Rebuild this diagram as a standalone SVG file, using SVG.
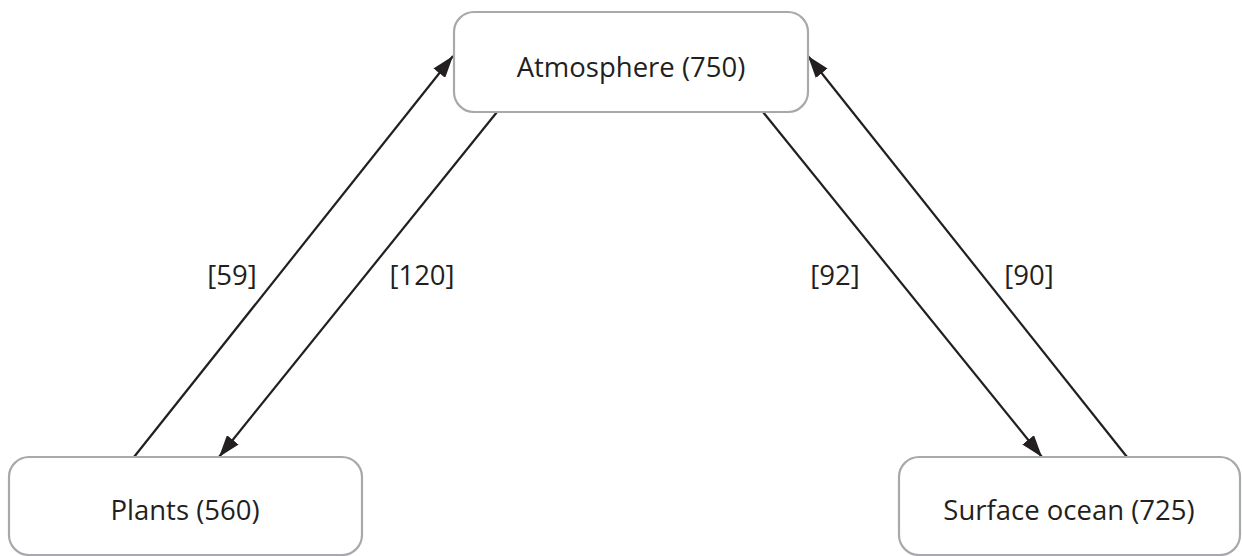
<svg xmlns="http://www.w3.org/2000/svg" width="1242" height="556" viewBox="0 0 1242 556">
<style>
.box{fill:#fff;stroke:#a7a9ac;stroke-width:2.2}
.lbl{font-family:"Open Sans","Noto Sans",sans-serif;font-size:27.5px;fill:#231f20;text-anchor:middle}
.edge{stroke:#231f20;stroke-width:2.2;fill:none;marker-end:url(#ah)}
</style>
<defs>
<marker id="ah" viewBox="0 0 22 15" refX="22" refY="7.5" markerWidth="22" markerHeight="15" markerUnits="userSpaceOnUse" orient="auto">
<path d="M0,0 L22,7.5 L0,15 Z" fill="#231f20"/>
</marker>
</defs>
<rect width="1242" height="556" fill="#fff"/>
<g id="connectors">
<line class="edge" x1="134" y1="457" x2="453" y2="56"/>
<line class="edge" x1="497" y1="112" x2="219" y2="457"/>
<line class="edge" x1="763" y1="112" x2="1042" y2="457"/>
<line class="edge" x1="1127" y1="457" x2="808" y2="56"/>
<text class="lbl" x="232" y="285">[59]</text>
<text class="lbl" x="422" y="285">[120]</text>
<text class="lbl" x="835" y="285">[92]</text>
<text class="lbl" x="1029" y="285">[90]</text>
</g>
<g id="atmosphere">
<rect class="box" x="454" y="12" width="354" height="100" rx="20"/>
<text class="lbl" x="631" y="77">Atmosphere (750)</text>
</g>
<g id="plants">
<rect class="box" x="9" y="457" width="353" height="98" rx="20"/>
<text class="lbl" x="185" y="520">Plants (560)</text>
</g>
<g id="ocean">
<rect class="box" x="899" y="457" width="341" height="98" rx="20"/>
<text class="lbl" x="1069" y="520">Surface ocean (725)</text>
</g>
</svg>
